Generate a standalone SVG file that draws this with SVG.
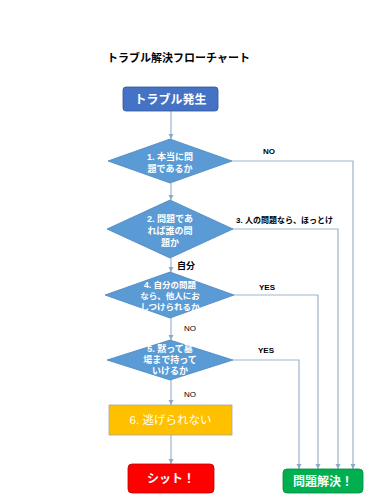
<svg xmlns="http://www.w3.org/2000/svg" width="375" height="500" viewBox="0 0 375 500">
<defs>
<marker id="arr" markerWidth="6" markerHeight="6" refX="5" refY="3" orient="auto" markerUnits="userSpaceOnUse">
<path d="M0,0.5 L5,3 L0,5.5 Z" fill="#8FA9C2"/>
</marker>
</defs>
<style>
text{font-family:"Liberation Sans","Noto Sans CJK JP",sans-serif;}
.dia{fill:#5B9BD5;stroke:#4A86BE;stroke-width:0.8;}
.dt{fill:#fff;font-size:9px;font-weight:bold;text-anchor:middle;}
.bt{fill:#fff;font-size:12px;font-weight:bold;text-anchor:middle;}
.lbl{fill:#000;font-size:8px;font-weight:bold;}
.lbn{fill:#000;font-size:8px;}
.con{fill:none;stroke:#9DB5CC;stroke-width:1.2;}
</style>
<rect width="375" height="500" fill="#fff"/>
<text id="title" x="107" y="62" style="font-size:11px;font-weight:bold;fill:#000">トラブル解決フローチャート</text>
<g id="connectors">
<line class="con" x1="171" y1="111" x2="171" y2="139" marker-end="url(#arr)"/>
<line class="con" x1="171" y1="183" x2="171" y2="200" marker-end="url(#arr)"/>
<line class="con" x1="171" y1="258" x2="171" y2="272" marker-end="url(#arr)"/>
<line class="con" x1="171" y1="318" x2="171" y2="340" marker-end="url(#arr)"/>
<line class="con" x1="171" y1="380" x2="171" y2="405" marker-end="url(#arr)"/>
<line class="con" x1="171" y1="435" x2="171" y2="464" marker-end="url(#arr)"/>
<polyline class="con" points="232,161 353,161 353,469" marker-end="url(#arr)"/>
<polyline class="con" points="232,229 338,229 338,469" marker-end="url(#arr)"/>
<polyline class="con" points="234,295 318,295 318,469" marker-end="url(#arr)"/>
<polyline class="con" points="233,360 299,360 299,469" marker-end="url(#arr)"/>
<text class="lbl" x="263" y="154">NO</text>
<text class="lbl" x="236" y="223">3. 人の問題なら、ほっとけ</text>
<text class="lbl" x="177" y="269" style="font-size:9px">自分</text>
<text class="lbl" x="259" y="290">YES</text>
<text class="lbn" x="184" y="331">NO</text>
<text class="lbl" x="258" y="353">YES</text>
<text class="lbn" x="184" y="397">NO</text>
</g>
<g id="start">
<rect x="123" y="87" width="95" height="24" rx="3" fill="#4472C4" stroke="#2F5597" stroke-width="0.8"/>
<text class="bt" x="170.5" y="103.5">トラブル発生</text>
</g>
<g id="q1">
<polygon class="dia" points="170,139 232,161 170,183 108,161"/>
<text class="dt" x="170" y="160">1. 本当に問</text>
<text class="dt" x="170" y="172">題であるか</text>
</g>
<g id="q2">
<polygon class="dia" points="170,200 233,229 170,258 107,229"/>
<text class="dt" x="170" y="222">2. 問題であ</text>
<text class="dt" x="170" y="234">れば誰の問</text>
<text class="dt" x="170" y="246">題か</text>
</g>
<g id="q4">
<polygon class="dia" points="170,272 234,295 170,318 105,295"/>
<text class="dt" x="170" y="288" style="font-size:8.5px">4. 自分の問題</text>
<text class="dt" x="170" y="299" style="font-size:8.5px">なら、他人にお</text>
<text class="dt" x="170" y="310" style="font-size:8.5px">しつけられるか</text>
</g>
<g id="q5">
<polygon class="dia" points="170,340 233,360 170,380 107,360"/>
<text class="dt" x="170" y="352">5. 黙って墓</text>
<text class="dt" x="170" y="363">場まで持って</text>
<text class="dt" x="170" y="374">いけるか</text>
</g>
<g id="n6">
<rect x="109" y="405" width="123" height="30" fill="#FFC000" stroke="#A5A5A5" stroke-width="0.8"/>
<text class="bt" x="170.5" y="424" style="font-weight:normal;font-size:11.5px">6. 逃げられない</text>
</g>
<g id="shit">
<rect x="128" y="464" width="86" height="29" rx="4" fill="#FF0000" stroke="#C00000" stroke-width="0.8"/>
<text class="bt" x="171" y="483">シット！</text>
</g>
<g id="solved">
<rect x="283" y="469" width="80" height="24" rx="4" fill="#00B050" stroke="#00883C" stroke-width="0.8"/>
<text class="bt" x="323" y="485.5">問題解決！</text>
</g>
</svg>
